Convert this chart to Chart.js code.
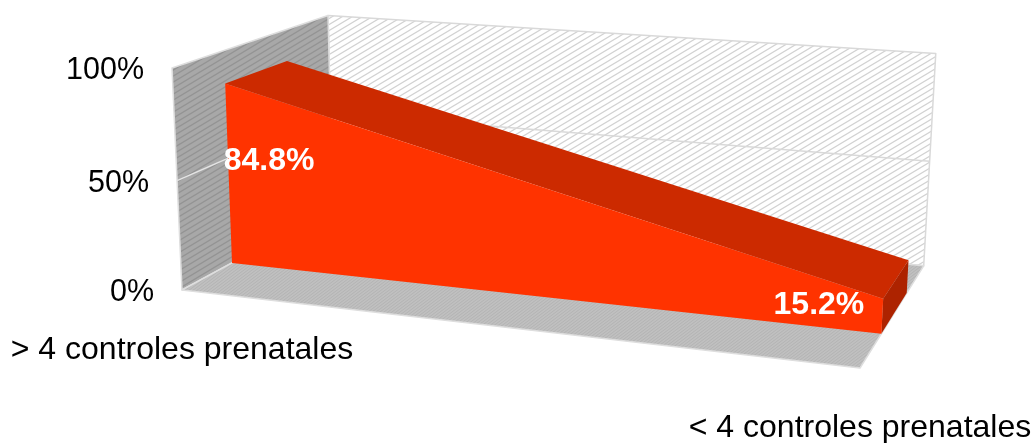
<!DOCTYPE html>
<html lang="es">
<head>
  <meta charset="UTF-8">
  <title>Controles prenatales</title>
  <script src="https://cdn.jsdelivr.net/npm/chart.js"></script>
  <style>
    html, body { margin: 0; background: #fff; }
    #wrap { width: 1032px; height: 443px; position: relative; }
  </style>
</head>
<body>
  <div id="wrap"><canvas id="chart"></canvas></div>

  <script>
    const categories = ['> 4 controles prenatales', '< 4 controles prenatales'];
    const percentages = [84.8, 15.2];
    const yTicks = [0, 50, 100];

    // vanishing points of the width, height and depth directions
    const VP_X = [-5200, -329];
    const VP_Y = [509, 7560];
    const VP_Z = [1279, -304];
    const DEPTH = 0.1592;
    // the area slab sits in the middle of the box depth
    const SLAB_FRONT = 0.30;
    const SLAB_BACK = 0.70;

    const FONT = '"Liberation Sans", Arial, sans-serif';

    function makeView(area) {
      const ox = area.left, oy = area.bottom;
      const lx = (area.right - ox) / (VP_X[0] - area.right);
      const ly = (area.top - oy) / (VP_Y[1] - area.top);
      return (X, Y, Z) => {
        const a = lx * X, b = ly * Y, c = DEPTH * Z;
        const w = 1 + a + b + c;
        return [
          (ox + a * VP_X[0] + b * VP_Y[0] + c * VP_Z[0]) / w,
          (oy + a * VP_X[1] + b * VP_Y[1] + c * VP_Z[1]) / w
        ];
      };
    }

    function hatch(bg, line, w, h, lw) {
      const c = document.createElement('canvas');
      c.width = w; c.height = h;
      const g = c.getContext('2d');
      g.fillStyle = bg;
      g.fillRect(0, 0, w, h);
      g.strokeStyle = line;
      g.lineWidth = lw;
      g.beginPath();
      g.moveTo(-w, 2 * h); g.lineTo(2 * w, -h);
      g.moveTo(-w, h); g.lineTo(w, -h);
      g.moveTo(0, 2 * h); g.lineTo(2 * w, 0);
      g.stroke();
      return g.createPattern(c, 'repeat');
    }

    function poly(ctx, pts, fill, stroke, lw) {
      ctx.beginPath();
      pts.forEach((p, i) => i ? ctx.lineTo(p[0], p[1]) : ctx.moveTo(p[0], p[1]));
      ctx.closePath();
      if (fill) { ctx.fillStyle = fill; ctx.fill(); }
      if (stroke) { ctx.strokeStyle = stroke; ctx.lineWidth = lw || 1; ctx.stroke(); }
    }

    const box3d = {
      id: 'box3d',
      beforeDatasetsDraw(chart) {
        const { ctx, chartArea: area } = chart;
        const yScale = chart.scales.y;
        const P = makeView(area);
        const toY = v => (area.bottom - yScale.getPixelForValue(v)) / area.height;

        const backFill = hatch('#ffffff', '#d2d2d2', 10, 6, 1.2);
        const sideFill = hatch('#a8a8a8', '#939393', 10, 6, 1.3);
        const floorFill = hatch('#c0c0c0', '#b0b0b0', 4, 3, 0.8);

        ctx.save();
        ctx.lineJoin = 'round';

        // walls and floor
        poly(ctx, [P(0, 0, 1), P(1, 0, 1), P(1, 1, 1), P(0, 1, 1)], backFill, '#d9d9d9', 1.5);
        poly(ctx, [P(0, 0, 0), P(0, 0, 1), P(0, 1, 1), P(0, 1, 0)], sideFill, '#dedede', 1.5);
        poly(ctx, [P(0, 0, 0), P(1, 0, 0), P(1, 0, 1), P(0, 0, 1)], floorFill, '#dedede', 1.5);

        // gridlines on the walls
        yTicks.slice(1, -1).forEach(t => {
          const Y = toY(t);
          ctx.beginPath();
          ctx.moveTo(...P(0, Y, 1)); ctx.lineTo(...P(1, Y, 1));
          ctx.strokeStyle = '#d9d9d9'; ctx.lineWidth = 1.5; ctx.stroke();
          ctx.beginPath();
          ctx.moveTo(...P(0, Y, 0)); ctx.lineTo(...P(0, Y, 1));
          ctx.strokeStyle = '#e4e4e4'; ctx.stroke();
        });

        // area slab built from the dataset points
        const meta = chart.getDatasetMeta(0);
        const pts = meta.data.map(el => [(el.x - area.left) / area.width, (area.bottom - el.y) / area.height]);
        const zf = SLAB_FRONT, zb = SLAB_BACK;
        const last = pts[pts.length - 1];

        poly(ctx, [P(last[0], 0, zf), P(last[0], last[1], zf), P(last[0], last[1], zb), P(last[0], 0, zb)], '#ad2300');
        for (let i = 0; i < pts.length - 1; i++) {
          const a = pts[i], b = pts[i + 1];
          poly(ctx, [P(a[0], a[1], zf), P(b[0], b[1], zf), P(b[0], b[1], zb), P(a[0], a[1], zb)], '#cc2a00');
        }
        const front = [P(pts[0][0], 0, zf)]
          .concat(pts.map(p => P(p[0], p[1], zf)))
          .concat([P(last[0], 0, zf)]);
        poly(ctx, front, '#ff3300');

        // value labels on the front face
        ctx.fillStyle = '#ffffff';
        ctx.font = 'bold 32px ' + FONT;
        ctx.textBaseline = 'middle';
        pts.forEach((p, i) => {
          const m = P(p[0], p[1] / 2, zf);
          const txt = percentages[i].toFixed(1) + '%';
          if (i === 0) {
            ctx.textAlign = 'left';
            ctx.fillText(txt, m[0] - 5, m[1] - 13);
          } else if (i === pts.length - 1) {
            ctx.textAlign = 'right';
            ctx.fillText(txt, m[0] - 18, m[1] - 11);
          } else {
            ctx.textAlign = 'center';
            ctx.fillText(txt, m[0], m[1] - 12);
          }
        });

        // value axis labels along the front edge of the side wall
        ctx.fillStyle = '#000000';
        ctx.font = '30.5px ' + FONT;
        ctx.textAlign = 'right';
        yTicks.forEach(t => {
          const p = P(0, toY(t), 0);
          ctx.fillText(t + '%', p[0] - 28, p[1] + 3);
        });

        // category labels below the front edge of the floor
        ctx.font = '32px ' + FONT;
        ctx.textAlign = 'center';
        pts.forEach((p, i) => {
          const q = P(p[0], 0, 0);
          ctx.fillText(categories[i], q[0], q[1] + 60);
        });

        ctx.restore();
      }
    };

    new Chart(document.getElementById('chart'), {
      type: 'line',
      data: {
        labels: categories,
        datasets: [{
          data: percentages,
          showLine: false,
          pointRadius: 0,
          fill: false
        }]
      },
      options: {
        responsive: true,
        maintainAspectRatio: false,
        animation: false,
        events: [],
        layout: { padding: { left: 182, top: 68, right: 172, bottom: 153 } },
        plugins: {
          legend: { display: false },
          tooltip: { enabled: false }
        },
        scales: {
          x: { display: false, offset: false },
          y: { display: false, min: 0, max: 100 }
        }
      },
      plugins: [box3d]
    });
  </script>
</body>
</html>
